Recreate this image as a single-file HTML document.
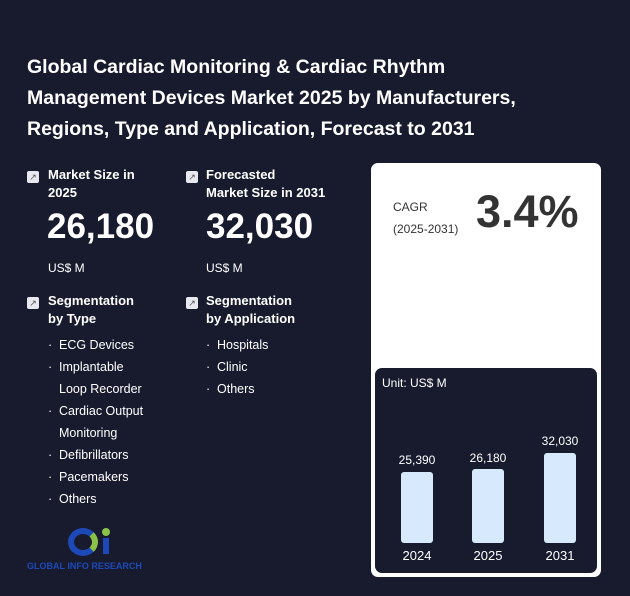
<!DOCTYPE html>
<html><head><style>
body{margin:0;width:630px;height:596px;background:#181b2e;font-family:"Liberation Sans",sans-serif;color:#fff;position:relative;overflow:hidden}
.a{position:absolute}
.t{left:27px;top:52px;font-size:19.5px;font-weight:bold;line-height:31px;width:510px}
.h{font-size:13px;font-weight:bold;line-height:18px}
.ic{width:12px;height:12px;background:#e8e8f0;border-radius:2px;color:#555;font-size:9px;line-height:12px;text-align:center}
.big{font-size:35px;font-weight:bold}
.sm{font-size:12px}
.li{font-size:12.5px;line-height:22px}
.li div{padding-left:11px;position:relative}
.li div.d::before{content:"·";position:absolute;left:0}
.bar{background:#d6e9fd;border-radius:3px;width:32px}
.bl{font-size:12px;width:60px;text-align:center}
</style></head><body>
<div class="a t">Global Cardiac Monitoring &amp; Cardiac Rhythm Management Devices Market 2025 by Manufacturers, Regions, Type and Application, Forecast to 2031</div>
<div class="a ic" style="left:27px;top:171px">↗</div>
<div class="a h" style="left:48px;top:166px">Market Size in<br>2025</div>
<div class="a big" style="left:47px;top:207px">26,180</div>
<div class="a sm" style="left:48px;top:261px">US$ M</div>
<div class="a ic" style="left:186px;top:171px">↗</div>
<div class="a h" style="left:206px;top:166px">Forecasted<br>Market Size in 2031</div>
<div class="a big" style="left:206px;top:207px">32,030</div>
<div class="a sm" style="left:206px;top:261px">US$ M</div>
<div class="a ic" style="left:27px;top:297px">↗</div>
<div class="a h" style="left:48px;top:292px">Segmentation<br>by Type</div>
<div class="a ic" style="left:186px;top:297px">↗</div>
<div class="a h" style="left:206px;top:292px">Segmentation<br>by Application</div>
<div class="a li" style="left:48px;top:334px"><div class="d">ECG Devices</div><div class="d">Implantable</div><div>Loop Recorder</div><div class="d">Cardiac Output</div><div>Monitoring</div><div class="d">Defibrillators</div><div class="d">Pacemakers</div><div class="d">Others</div></div>
<div class="a li" style="left:206px;top:334px"><div class="d">Hospitals</div><div class="d">Clinic</div><div class="d">Others</div></div>
<div class="a" style="left:68px;top:528px;height:28px;border-radius:50%;border:6px solid #1d49b8;border-right-color:#8bc34a;box-sizing:border-box;width:30px"></div>
<div class="a" style="left:102px;top:528px;width:8px;height:8px;border-radius:50%;background:#8bc34a"></div>
<div class="a" style="left:103px;top:538px;width:6px;height:16px;background:#1d49b8"></div>
<div class="a" style="left:27px;top:561px;font-size:9px;font-weight:bold;color:#1d49b8">GLOBAL INFO RESEARCH</div>
<div class="a" style="left:371px;top:163px;width:230px;height:414px;background:#fff;border-radius:7px"></div>
<div class="a" style="left:393px;top:196px;color:#333;font-size:12px;line-height:22px">CAGR<br>(2025-2031)</div>
<div class="a" style="left:476px;top:186px;color:#333;font-size:45px;font-weight:bold">3.4%</div>
<div class="a" style="left:375px;top:368px;width:222px;height:205px;background:#181b2e;border-radius:7px"></div>
<div class="a sm" style="left:382px;top:376px">Unit: US$ M</div>
<div class="a bar" style="left:401px;top:472px;height:71px"></div>
<div class="a bar" style="left:472px;top:469px;height:74px"></div>
<div class="a bar" style="left:544px;top:453px;height:90px"></div>
<div class="a bl" style="left:387px;top:453px">25,390</div>
<div class="a bl" style="left:458px;top:451px">26,180</div>
<div class="a bl" style="left:530px;top:434px">32,030</div>
<div class="a bl" style="left:387px;top:548px;font-size:13px">2024</div>
<div class="a bl" style="left:458px;top:548px;font-size:13px">2025</div>
<div class="a bl" style="left:530px;top:548px;font-size:13px">2031</div>
</body></html>
